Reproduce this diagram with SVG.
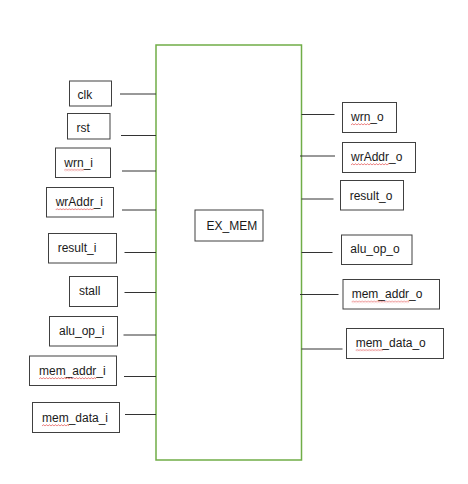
<svg xmlns="http://www.w3.org/2000/svg" width="468" height="484" viewBox="0 0 468 484">
<style>
.box{fill:#fff;stroke:#404040;stroke-width:1}
.lbl{font-family:"Liberation Sans",Arial,sans-serif;font-size:12px;fill:#1a1a1a}
.wire{stroke:#333;stroke-width:1;fill:none}
.main{fill:#fff;stroke:#70ad47;stroke-width:1.5}
.sq{fill:url(#squig)}
</style>
<defs>
<pattern id="squig" patternUnits="userSpaceOnUse" width="3" height="3">
<path d="M0,2.2 L1.5,0.6 L3,2.2" fill="none" stroke="#e04040" stroke-width="0.7"/>
</pattern>
</defs>
<rect width="468" height="484" fill="#fff"/>
<g id="ex_mem_block">
<rect class="main" x="156" y="45" width="145.5" height="415"/>
</g>
<g id="connectors">
<line class="wire" x1="120" y1="94" x2="156" y2="94"/>
<line class="wire" x1="121" y1="135.5" x2="156" y2="135.5"/>
<line class="wire" x1="122" y1="171" x2="156" y2="171"/>
<line class="wire" x1="122" y1="210" x2="156" y2="210"/>
<line class="wire" x1="124.5" y1="252.5" x2="156" y2="252.5"/>
<line class="wire" x1="124.5" y1="292.5" x2="156" y2="292.5"/>
<line class="wire" x1="123.5" y1="335" x2="156" y2="335"/>
<line class="wire" x1="124" y1="376.5" x2="156" y2="376.5"/>
<line class="wire" x1="125" y1="414.5" x2="156" y2="414.5"/>
<line class="wire" x1="301.5" y1="114.5" x2="334.5" y2="114.5"/>
<line class="wire" x1="300" y1="156" x2="335" y2="156"/>
<line class="wire" x1="301.5" y1="199" x2="333.5" y2="199"/>
<line class="wire" x1="301.5" y1="252.5" x2="332.5" y2="252.5"/>
<line class="wire" x1="300" y1="294.5" x2="338.5" y2="294.5"/>
<line class="wire" x1="301.5" y1="349" x2="342.5" y2="349"/>
</g>
<g id="ex_mem_label">
<rect class="box" x="195" y="210" width="68" height="31"/>
<text class="lbl" x="206.5" y="230" font-size="11px">EX_MEM</text>
</g>
<g id="clk">
<rect class="box" x="69.5" y="81" width="42" height="25"/>
<text class="lbl" x="77.5" y="98.5">clk</text>
</g>
<g id="rst">
<rect class="box" x="67.5" y="113.5" width="42.5" height="25.5"/>
<text class="lbl" x="76.5" y="132">rst</text>
</g>
<g id="wrn_i">
<rect class="box" x="55.5" y="148" width="55" height="29.5"/>
<text class="lbl" x="64.3" y="166.5">wrn_i</text>
<g transform="translate(64.3,168.5)"><rect class="sq" width="19.5" height="3"/></g>
</g>
<g id="wrAddr_i">
<rect class="box" x="46.5" y="187.5" width="67" height="29.5"/>
<text class="lbl" x="55.7" y="206">wrAddr_i</text>
<g transform="translate(55.7,208)"><rect class="sq" width="38" height="3"/></g>
</g>
<g id="result_i">
<rect class="box" x="48.5" y="233.5" width="68" height="29.5"/>
<text class="lbl" x="57.7" y="252.3">result_i</text>
</g>
<g id="stall">
<rect class="box" x="69.5" y="276.5" width="48" height="30"/>
<text class="lbl" x="79" y="295">stall</text>
</g>
<g id="alu_op_i">
<rect class="box" x="49.5" y="316.5" width="68" height="29.5"/>
<text class="lbl" x="59" y="335">alu_op_i</text>
</g>
<g id="mem_addr_i">
<rect class="box" x="29.5" y="356" width="87" height="29.5"/>
<text class="lbl" x="39" y="375">mem_addr_i</text>
<g transform="translate(39,377)"><rect class="sq" width="57" height="3"/></g>
</g>
<g id="mem_data_i">
<rect class="box" x="32.5" y="402.5" width="87" height="30"/>
<text class="lbl" x="42" y="422">mem_data_i</text>
<g transform="translate(42,424)"><rect class="sq" width="27" height="3"/></g>
</g>
<g id="wrn_o">
<rect class="box" x="342.5" y="102.5" width="54" height="30"/>
<text class="lbl" x="351" y="121">wrn_o</text>
<g transform="translate(351,123)"><rect class="sq" width="19.5" height="3"/></g>
</g>
<g id="wrAddr_o">
<rect class="box" x="342.5" y="142.5" width="73" height="30"/>
<text class="lbl" x="351" y="161">wrAddr_o</text>
<g transform="translate(351,163)"><rect class="sq" width="38" height="3"/></g>
</g>
<g id="result_o">
<rect class="box" x="340.5" y="180.5" width="63" height="29.5"/>
<text class="lbl" x="349.7" y="200">result_o</text>
</g>
<g id="alu_op_o">
<rect class="box" x="341.5" y="235" width="70.5" height="29.5"/>
<text class="lbl" x="350.3" y="253.3">alu_op_o</text>
</g>
<g id="mem_addr_o">
<rect class="box" x="343" y="279.5" width="96.5" height="29.5"/>
<text class="lbl" x="351.7" y="298.3">mem_addr_o</text>
<g transform="translate(351.7,300.3)"><rect class="sq" width="57.5" height="3"/></g>
</g>
<g id="mem_data_o">
<rect class="box" x="346.5" y="328.5" width="97" height="30"/>
<text class="lbl" x="355.7" y="346.7">mem_data_o</text>
<g transform="translate(355.7,348.7)"><rect class="sq" width="27" height="3"/></g>
</g>
</svg>
